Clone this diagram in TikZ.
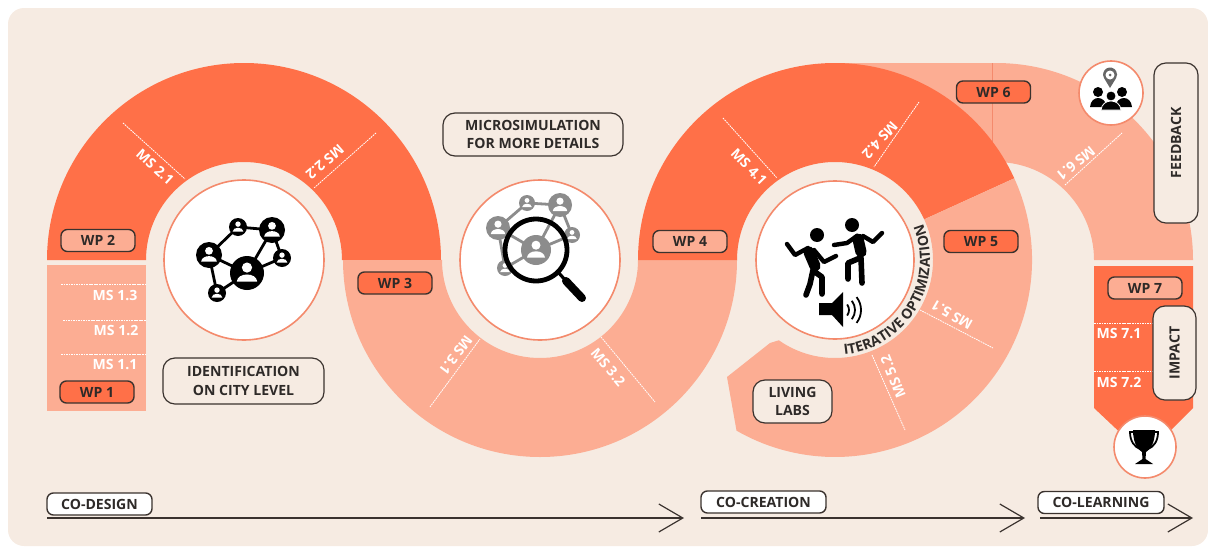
\documentclass[tikz,border=0pt]{standalone}
\usepackage{fontspec}
\setmainfont{Open Sans}
\usetikzlibrary{calc,arrows.meta,decorations.text}
\definecolor{pagebg}{HTML}{F6EBE2}
\definecolor{darkband}{HTML}{FF7048}
\definecolor{lightband}{HTML}{FCAD93}
\definecolor{ringline}{HTML}{F48A6C}
\definecolor{inkline}{HTML}{3A322E}
\definecolor{inktext}{HTML}{2E2A28}
\newcommand{\labelfont}{\fontsize{10}{13}\selectfont\bfseries}
\tikzset{
	wpbox/.style={draw=inkline, line width=0.35mm, rounded corners=1.6mm, inner sep=0pt, minimum width=1.85cm, minimum height=0.55cm, text=inktext, font=\labelfont},
	wpdark/.style={wpbox, fill=darkband},
	wplight/.style={wpbox, fill=lightband},
	notebox/.style={draw=inkline, line width=0.3mm, rounded corners=3mm, inner sep=0pt, align=center, text=inktext, font=\labelfont},
	phasebox/.style={draw=inkline, line width=0.35mm, rounded corners=1.6mm, inner sep=0pt, fill=white, minimum height=0.55cm, text=inktext, font=\labelfont},
	phasearrow/.style={draw=inkline, line width=0.3mm, -{Straight Barb[length=6mm,width=7mm]}},
	msline/.style={draw=white, line width=0.2mm, dash pattern=on 1.2pt off 0.6pt},
	mslabel/.style={text=white, inner sep=0pt, font=\labelfont},
	iconring/.style={draw=ringline, line width=0.4mm, fill=white},
	dancerarm/.style={draw=black, line width=1.1mm, line cap=round, line join=round},
	dancerleg/.style={draw=black, line width=1.4mm, line cap=round, line join=round},
	dancerbody/.style={draw=black, line width=2.8mm, line cap=round},
	netline/.style={line width=0.7mm},
}
\def\ringpart[#1](#2)(#3:#4:#5:#6){\fill[#1] ($(#2)+({#6*cos(#3)},{#6*sin(#3)})$) arc (#3:#4:#6) -- ($(#2)+({#5*cos(#4)},{#5*sin(#4)})$) arc (#4:#3:#5) -- cycle;}
\def\netnode[#1](#2,#3)(#4){\fill[#1] (#2,#3) circle (#4);
	\fill[white] ({#2},{#3-0.32*#4}) circle ({0.3*#4});
	\fill[white] ({#2-0.6*#4},{#3+0.5*#4}) .. controls ({#2-0.55*#4},{#3-0.05*#4}) and ({#2+0.55*#4},{#3-0.05*#4}) .. ({#2+0.6*#4},{#3+0.5*#4}) -- cycle;}

\begin{document}
\begin{tikzpicture}[x=0.025cm, y=-0.025cm]
			%%%%% START %%%%%
			\useasboundingbox (0, 0) rectangle (1208, 546);
			\fill[pagebg, rounded corners=4mm] (8, 8) rectangle (1208, 546);
			
			\coordinate (cone) at (244, 260);
			\coordinate (ctwo) at (540, 260);
			\coordinate (cthree) at (835, 260);
			\coordinate (cfour) at (996, 260);
			
			% bands
			\fill[lightband] (47, 265) rectangle (146, 411);
			\ringpart[darkband](cone)(180:360:98:197);
			\ringpart[lightband](ctwo)(180:0:98:197);
			\ringpart[lightband](cfour)(270:360:98:197);
			\fill[lightband] (835, 63) rectangle (996, 162);
			\draw[ringline, line width=0.15mm] (992.5, 63) -- (992.5, 162);
			\ringpart[darkband](cthree)(180:335.5:98:197);
			\fill[lightband] ($(cthree)+({197*cos(-24.5)},{197*sin(-24.5)})$) arc (-24.5:120:197) -- (727, 377) -- (770, 343) -- ($(cthree)+({98*cos(125)},{98*sin(125)})$) arc (125:-24.5:98) -- cycle;
			\fill[darkband] (1094, 266) -- (1193, 266) -- (1193, 408) -- (1145, 456) -- (1094, 408) -- cycle;
			
			% milestones
			\draw[msline] (61, 284) -- (146, 284);
			\draw[msline] (63, 320) -- (146, 320);
			\draw[msline] (61, 354) -- (146, 354);
			\draw[msline] (123, 123) -- (185, 179);
			\draw[msline] (376, 133) -- (314, 188);
			\draw[msline] (430, 407) -- (480, 339);
			\draw[msline] (601, 337) -- (655, 402);
			\draw[msline] (723, 118) -- (777, 178);
			\draw[msline] (919, 102) -- (874, 167);
			\draw[msline] (920, 310) -- (993, 348);
			\draw[msline] (872, 355) -- (905, 430);
			\draw[msline] (1065, 185) -- (1122, 133);
			\draw[msline] (1094, 323) -- (1153, 323);
			\draw[msline] (1094, 371) -- (1153, 371);
			
			\node[mslabel] (msoneC) at (115, 295) {MS 1.3};
			\node[mslabel] (msoneB) at (116, 330) {MS 1.2};
			\node[mslabel] (msoneA) at (115, 364) {MS 1.1};
			\node[mslabel, rotate=-42] (mstwoA) at (155, 167) {MS 2.1};
			\node[mslabel, rotate=-139] (mstwoB) at (325, 162) {MS 2.2};
			\node[mslabel, rotate=-127] (msthreeA) at (456, 355) {MS 3.1};
			\node[mslabel, rotate=-50] (msthreeB) at (608, 367) {MS 3.2};
			\node[mslabel, rotate=-46] (msfourA) at (749, 167) {MS 4.1};
			\node[mslabel, rotate=-132] (msfourB) at (880, 140) {MS 4.2};
			\node[mslabel, rotate=150] (msfiveA) at (952, 315) {MS 5.1};
			\node[mslabel, rotate=112] (msfiveB) at (893, 377) {MS 5.2};
			\node[mslabel, rotate=-141] (mssix) at (1076, 163) {MS 6.1};
			\node[mslabel] (mssevenA) at (1119, 333) {MS 7.1};
			\node[mslabel] (mssevenB) at (1119, 382) {MS 7.2};
			
			% circles
			\draw[iconring] (cone) circle (80);
			\draw[iconring] (ctwo) circle (80);
			\draw[iconring] (cthree) circle (79);
			\draw[iconring] (1111, 93) circle (32);
			\draw[iconring] (1145, 447) circle (31);
			
			% network
			\draw[netline] (238, 227) -- (272, 230) -- (282, 258) -- (247, 273) -- (209, 255) -- (238, 227);
			\draw[netline] (272, 230) -- (247, 273) -- (217, 293) -- (209, 255);
			\netnode[black](238,227)(9)
			\netnode[black](272,230)(13)
			\netnode[black](209,255)(13)
			\netnode[black](282,258)(9)
			\netnode[black](247,273)(17)
			\netnode[black](217,293)(9)
			
			% magnifier
			\draw[netline, black!45] (527, 203) -- (560, 205) -- (572, 235) -- (536, 250) -- (498, 228) -- (527, 203);
			\draw[netline, black!45] (560, 205) -- (536, 250) -- (505, 268) -- (498, 228);
			\netnode[black!45](527,203)(8)
			\netnode[black!45](560,205)(12)
			\netnode[black!45](498,228)(12)
			\netnode[black!45](572,235)(8)
			\netnode[black!45](536,250)(15)
			\netnode[black!45](505,268)(8)
			\draw[black, line width=1.2mm] (536, 250) circle (31);
			\draw[black, line width=0.8mm] (558, 272) -- (566, 281);
			\draw[black, line width=2mm, line cap=round] (566, 281) -- (582, 298);
			
			% dancers
			\fill (817, 235) circle (7);
			\draw[dancerarm] (787, 244) -- (795, 255) -- (808, 248);
			\draw[dancerarm] (814, 250) -- (824, 262) -- (836, 256);
			\draw[dancerbody] (809, 252) -- (815, 266);
			\draw[dancerleg] (813, 270) -- (810, 284) -- (806, 295);
			\draw[dancerleg] (815, 272) -- (822, 277) -- (822, 294);
			\fill (852, 225) circle (7);
			\draw[dancerarm] (834, 245) -- (847, 243) -- (857, 236);
			\draw[dancerarm] (863, 236) -- (873, 242) -- (882, 233);
			\draw[dancerbody] (858, 239) -- (861, 252);
			\draw[dancerleg] (860, 258) -- (848, 263) -- (848, 279);
			\draw[dancerleg] (861, 258) -- (862, 283);
			
			% speaker
			\fill (819, 303) -- (832, 303) -- (843, 292) -- (843, 327) -- (832, 315) -- (819, 315) -- cycle;
			\foreach \r in {9, 15, 21}
				\draw[line width=0.45mm] ($(840, 310)+({\r*cos(-38)},{\r*sin(-38)})$) arc (-38:38:\r);
			
			% people and pin
			\fill[black!60] (1110, 88) -- (1104, 78) arc (150:390:7) -- cycle;
			\fill[white] (1110, 75) circle (4.5);
			\fill[black!60] (1110, 75) circle (1.5);
			\fill (1098, 92) circle (5);
			\fill (1122, 92) circle (5);
			\fill (1090, 107) .. controls (1091, 95) and (1105, 95) .. (1107, 107) -- cycle;
			\fill (1115, 107) .. controls (1117, 95) and (1131, 95) .. (1132, 107) -- cycle;
			\fill[black, draw=white, line width=0.2mm] (1111, 96) circle (5);
			\fill[black, draw=white, line width=0.2mm] (1101, 110) .. controls (1102, 98) and (1120, 98) .. (1121, 110) -- cycle;
			
			% trophy
			\draw[line width=0.45mm] (1135, 432) -- (1130, 432) .. controls (1130, 442) and (1135, 447) .. (1140, 449);
			\draw[line width=0.45mm] (1153, 432) -- (1158, 432) .. controls (1158, 442) and (1153, 447) .. (1148, 449);
			\fill (1133, 430) -- (1155, 430) .. controls (1155, 445) and (1149, 450) .. (1146, 452) -- (1145.5, 459) -- (1153, 464) -- (1135, 464) -- (1142.5, 459) -- (1142, 452) .. controls (1139, 450) and (1133, 445) .. (1133, 430) -- cycle;
			
			% boxes
			\node[wpdark] (wpone) at (97, 392) {WP 1};
			\node[wplight] (wptwo) at (98, 240.5) {WP 2};
			\node[wpdark] (wpthree) at (395, 283) {WP 3};
			\node[wplight] (wpfour) at (690, 241.5) {WP 4};
			\node[wpdark] (wpfive) at (981, 241.5) {WP 5};
			\node[wpdark] (wpsix) at (993.5, 92) {WP 6};
			\node[wplight] (wpseven) at (1145, 288) {WP 7};
			
			\node[notebox, minimum width=4.025cm, minimum height=1.15cm] (identification) at (243.5, 381) {IDENTIFICATION\\ON CITY LEVEL};
			\node[notebox, minimum width=4.5cm, minimum height=1.075cm] (microsimulation) at (533, 134.5) {MICROSIMULATION\\FOR MORE DETAILS};
			\node[notebox, fill=pagebg, minimum width=1.975cm, minimum height=1.075cm] (livinglabs) at (792.5, 401.5) {LIVING\\LABS};
			\node[notebox, fill=pagebg, rotate=90, minimum width=4cm, minimum height=1.1cm] (feedback) at (1176, 143) {FEEDBACK};
			\node[notebox, fill=pagebg, rotate=90, minimum width=2.35cm, minimum height=1.075cm] (impact) at (1174.5, 353) {IMPACT};
			
			\path[decorate, decoration={text along path, text align=center, text={|\labelfont\color{inktext}|ITERATIVE OPTIMIZATION}}] ($(cthree)+({95*cos(88)},{95*sin(88)})$) arc (88:-26:95);
			
			% phases
			\node[phasebox, minimum width=2.625cm] (codesign) at (99.5, 504) {CO-DESIGN};
			\node[phasebox, minimum width=3.125cm] (cocreation) at (763.5, 502) {CO-CREATION};
			\node[phasebox, minimum width=3.15cm] (colearning) at (1101, 502.5) {CO-LEARNING};
			
			\coordinate (designstart) at (47, 518);
			\coordinate (designend) at (684, 518);
			\coordinate (creationstart) at (701, 518);
			\coordinate (creationend) at (1025, 518);
			\coordinate (learningstart) at (1040, 518);
			\coordinate (learningend) at (1193, 518);
			\draw[phasearrow] (designstart) -- (designend);
			\draw[phasearrow] (creationstart) -- (creationend);
			\draw[phasearrow] (learningstart) -- (learningend);
			
			%%%%% END %%%%%
\end{tikzpicture}
\end{document}
